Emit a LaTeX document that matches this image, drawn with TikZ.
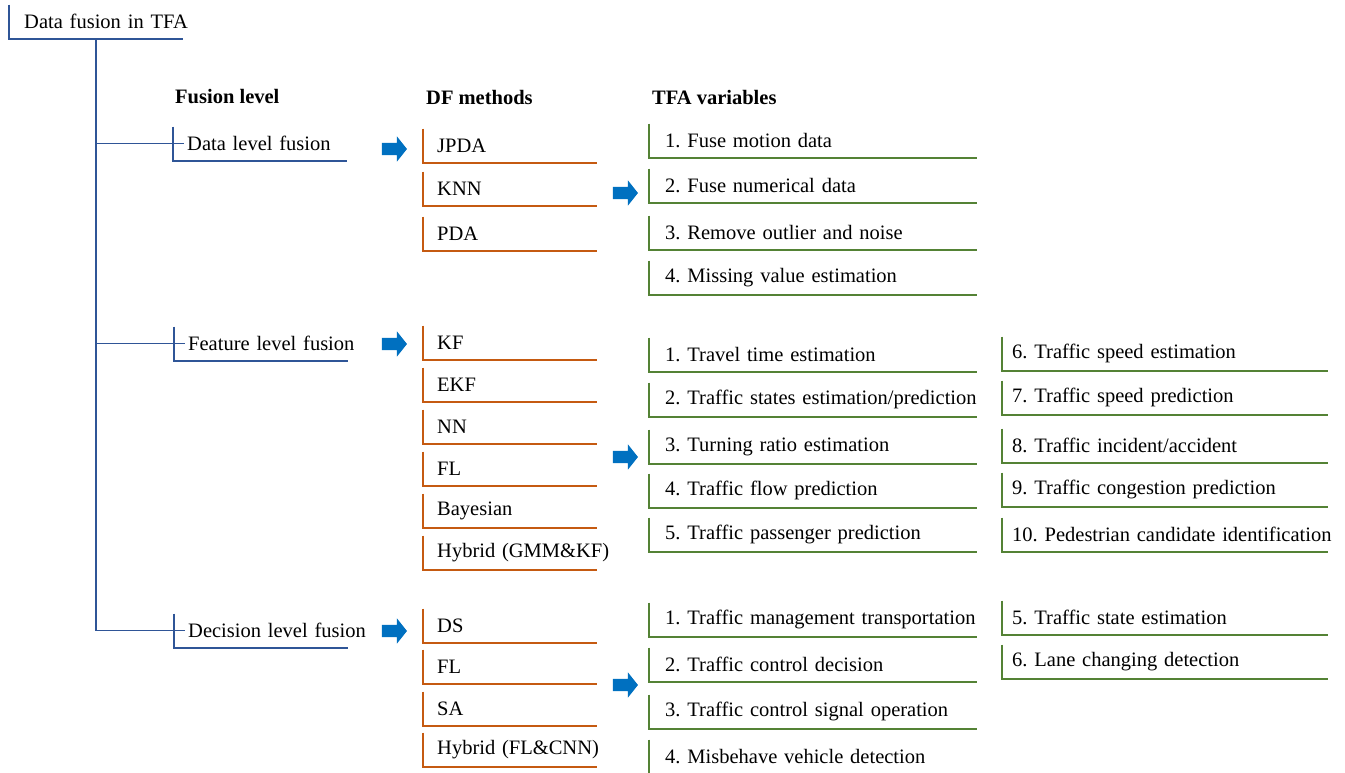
\documentclass[tikz,border=0pt]{standalone}
\usepackage{fontspec}
\setmainfont{Liberation Serif}
\usepackage{tikz}
\usetikzlibrary{shapes.arrows, positioning}
\definecolor{treeblue}{RGB}{47,85,151}
\definecolor{methodorange}{RGB}{197,90,17}
\definecolor{vargreen}{RGB}{84,130,53}
\definecolor{arrowblue}{RGB}{0,112,192}

\begin{document}
\begin{tikzpicture}[
    x=1pt, y=-1pt,
    every node/.style={font=\fontsize{20.5}{24}\selectfont\frenchspacing},
    bracket/.style={anchor=south west, minimum height=34pt, inner ysep=0pt, align=left,
        execute at begin node={\hbox\bgroup}, execute at end node={\egroup}},
    levelbox/.style={bracket, text width=146pt, inner xsep=14pt},
    methodbox/.style={bracket, text width=146pt, inner xsep=14pt},
    varbox/.style={bracket, text width=296pt, inner xsep=16pt},
    varboxb/.style={bracket, text width=306pt, inner xsep=10pt},
    head/.style={anchor=west, inner sep=0pt, font=\fontsize{20.5}{24}\selectfont\bfseries},
    blockarrow/.style={single arrow, fill=arrowblue, inner xsep=0pt, inner ysep=6pt,
        minimum height=25pt, single arrow head extend=6.5pt, single arrow tip angle=103},
    tree/.style={draw=treeblue, line width=1.2pt},
    mline/.style={draw=methodorange, line width=1.2pt},
    vline/.style={draw=vargreen, line width=1.2pt}
]
    \useasboundingbox (0,0) rectangle (1345,772);
    \clip (0,0) rectangle (1345,772);

    % Root and levels
    \node[bracket, text width=144pt, inner xsep=15pt] (root) at (9,39) {Data fusion in TFA};
    \coordinate (trunk) at (96,39);
    \node[levelbox] (lvdata) at (173,161) {Data level fusion};
    \node[levelbox] (lvfeat) at (174,361) {Feature level fusion};
    \node[levelbox] (lvdec) at (174,648) {Decision level fusion};

    % Headers
    \node[head] (hlevel) at (175,97) {Fusion level};
    \node[head] (hmethod) at (426,97) {DF methods};
    \node[head] (hvar) at (652,97) {TFA variables};

    % DF methods
    \node[methodbox] (mjpda) at (423,163) {JPDA};
    \node[methodbox] (mknn) at (423,206) {KNN};
    \node[methodbox] (mpda) at (423,251) {PDA};
    \node[methodbox] (mkf) at (423,360) {KF};
    \node[methodbox] (mekf) at (423,402) {EKF};
    \node[methodbox] (mnn) at (423,444) {NN};
    \node[methodbox] (mfl) at (423,486) {FL};
    \node[methodbox] (mbayes) at (423,528) {Bayesian};
    \node[methodbox] (mhyba) at (423,570) {Hybrid (GMM\&KF)};
    \node[methodbox] (mds) at (423,643) {DS};
    \node[methodbox] (mfld) at (423,684) {FL};
    \node[methodbox] (msa) at (423,726) {SA};
    \node[methodbox] (mhybb) at (423,767) {Hybrid (FL\&CNN)};

    % TFA variables
    \node[varbox] (vdone) at (649,158) {1. Fuse motion data};
    \node[varbox] (vdtwo) at (649,203) {2. Fuse numerical data};
    \node[varbox] (vdthree) at (649,250) {3. Remove outlier and noise};
    \node[varbox] (vdfour) at (649,295) {4. Missing value estimation};
    \node[varbox] (vfone) at (649,372) {1. Travel time estimation};
    \node[varbox] (vftwo) at (649,417) {2. Traffic states estimation/prediction};
    \node[varbox] (vfthree) at (649,464) {3. Turning ratio estimation};
    \node[varbox] (vffour) at (649,508) {4. Traffic flow prediction};
    \node[varbox] (vffive) at (649,552) {5. Traffic passenger prediction};
    \node[varboxb] (vfsix) at (1002,371) {6. Traffic speed estimation};
    \node[varboxb] (vfseven) at (1002,415) {7. Traffic speed prediction};
    \node[varboxb] (vfeight) at (1002,463) {8. Traffic incident/accident};
    \node[varboxb] (vfnine) at (1002,507) {9. Traffic congestion prediction};
    \node[varboxb] (vften) at (1002,552) {10. Pedestrian candidate identification};
    \node[varbox] (vcone) at (649,637) {1. Traffic management transportation};
    \node[varbox] (vctwo) at (649,682) {2. Traffic control decision};
    \node[varbox] (vcthree) at (649,729) {3. Traffic control signal operation};
    \node[varbox] (vcfour) at (649,774) {4. Misbehave vehicle detection};
    \node[varboxb] (vcfive) at (1002,635) {5. Traffic state estimation};
    \node[varboxb] (vcsix) at (1002,679) {6. Lane changing detection};

    % Arrows
    \node[blockarrow] (adata) at (392,149) {};
    \node[blockarrow] (adatab) at (623,193) {};
    \node[blockarrow] (afeat) at (392,344) {};
    \node[blockarrow] (afeatb) at (623,457) {};
    \node[blockarrow] (adec) at (392,631) {};
    \node[blockarrow] (adecb) at (623,685) {};

    % Tree lines
    \draw[tree] (trunk) -- (trunk |- lvdec.west);
    \foreach \n in {lvdata, lvfeat, lvdec}
        \draw[tree] (trunk |- \n.west) -- ([xshift=11pt]\n.west);
    \foreach \n in {root, lvdata, lvfeat, lvdec}
        \draw[tree] (\n.north west) |- (\n.south east);
    \foreach \n in {mjpda, mknn, mpda, mkf, mekf, mnn, mfl, mbayes, mhyba, mds, mfld, msa, mhybb}
        \draw[mline] (\n.north west) |- (\n.south east);
    \foreach \n in {vdone, vdtwo, vdthree, vdfour, vfone, vftwo, vfthree, vffour, vffive,
        vfsix, vfseven, vfeight, vfnine, vften, vcone, vctwo, vcthree, vcfour, vcfive, vcsix}
        \draw[vline] (\n.north west) |- (\n.south east);
\end{tikzpicture}
\end{document}
